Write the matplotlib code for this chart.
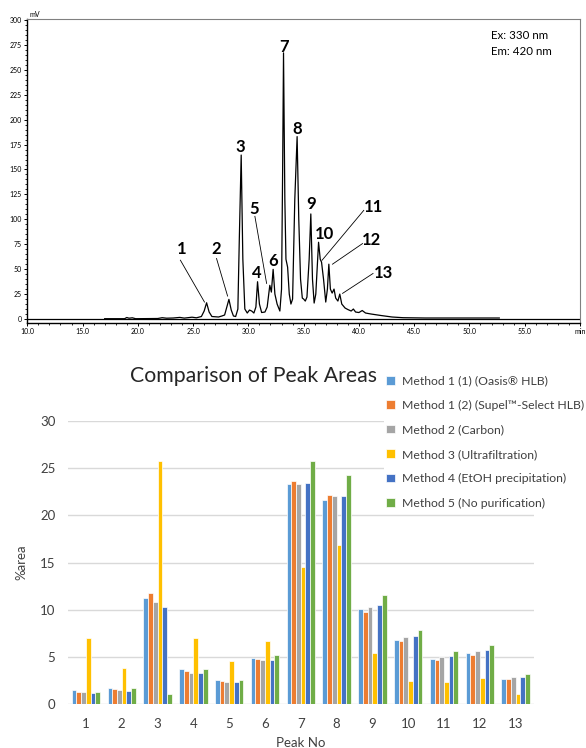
import numpy as np
import matplotlib.pyplot as plt
from matplotlib.ticker import MultipleLocator

plt.rcParams['font.family'] = ['Lato', 'DejaVu Sans']

# chromatogram trace (time in min, signal in mV)
trace_t = [17.0, 18.8, 19.0, 19.2, 19.5, 19.8, 21.8, 22.2, 22.6, 23.2, 23.8, 24.2, 24.9, 25.3,
           25.75, 26.0, 26.22, 26.45, 26.7, 27.3, 27.6, 27.85, 28.05, 28.24, 28.45, 28.65, 28.85,
           29.05, 29.18, 29.35, 29.5, 29.68, 29.9, 30.1, 30.3, 30.5, 30.68, 30.83, 31.0, 31.2,
           31.5, 31.7, 31.94, 32.08, 32.24, 32.4, 32.6, 32.85, 33.0, 33.1, 33.18, 33.3, 33.4,
           33.55, 33.7, 33.85, 34.0, 34.2, 34.41, 34.56, 34.72, 34.88, 35.0, 35.15, 35.3, 35.5,
           35.65, 35.8, 35.95, 36.1, 36.35, 36.5, 36.62, 36.8, 37.0, 37.15, 37.28, 37.42, 37.58,
           37.75, 37.9, 38.1, 38.27, 38.45, 38.75, 39.0, 39.3, 39.5, 39.7, 40.0, 40.3, 40.6, 41.1,
           42.0, 43.0, 44.0, 46.0, 52.7]
trace_mv = [0.3, 0.3, 1.5, 0.8, 1.2, 0.3, 0.5, 1.3, 0.8, 1.0, 1.6, 0.9, 1.8, 1.2,
            2.5, 8, 16.3, 7, 2.5, 2.0, 3.0, 4, 12, 19.7, 9, 3, 2.5,
            10, 80, 164.5, 60, 10, 6, 9, 8, 6, 12, 37.4, 15, 6.5,
            7, 12, 33.8, 27, 49.8, 25, 15, 8, 30, 150, 267, 120, 60,
            52, 25, 15, 20, 120, 183, 100, 40, 21, 20, 18, 22, 60,
            105.4, 40, 16, 25, 77, 60, 57, 40, 17, 30, 55, 30, 26,
            30, 21, 18, 25, 15, 11, 9.5, 8, 10, 7, 6.5, 8.5, 6, 5,
            3.5, 2, 1.3, 1.0, 1.0]

peak_labels = ['1', '2', '3', '4', '5', '6', '7', '8', '9', '10', '11', '12', '13']
label_t = [23.96, 27.12, 29.23, 30.74, 30.5, 32.24, 33.21, 34.41, 35.71, 36.92, 41.28, 41.14, 42.19]
label_mv = [70, 70, 173, 45.7, 110, 58.3, 273, 191, 115.7, 85.7, 112.3, 79, 46.3]
leader_lines = {
    '1': ((23.85, 59), (26.03, 17)),
    '2': ((27.12, 60.7), (28.12, 23)),
    '5': ((30.59, 103), (31.65, 35.7)),
    '11': ((40.44, 109), (36.67, 59)),
    '12': ((40.33, 75.7), (37.61, 55)),
    '13': ((41.28, 45.7), (38.52, 25.7)),
}

# peak area comparison (%area)
peak_no = [str(i) for i in range(1, 14)]
methods = ['Method 1 (1) (Oasis® HLB)',
           'Method 1 (2) (Supel™-Select HLB)',
           'Method 2 (Carbon)',
           'Method 3 (Ultrafiltration)',
           'Method 4 (EtOH precipitation)',
           'Method 5 (No purification)']
colors = ['#5B9BD5', '#ED7D31', '#A5A5A5', '#FFC000', '#4472C4', '#70AD47']
m1_oasis = [1.52, 1.69, 11.26, 3.71, 2.58, 4.94, 23.33, 21.67, 10.06, 6.81, 4.77, 5.40, 2.72]
m1_supel = [1.34, 1.62, 11.79, 3.53, 2.51, 4.80, 23.61, 22.17, 9.78, 6.71, 4.66, 5.22, 2.65]
m2_carbon = [1.27, 1.52, 10.84, 3.35, 2.36, 4.66, 23.30, 22.06, 10.31, 7.17, 5.05, 5.68, 2.86]
m3_ultra = [7.06, 3.81, 25.80, 7.06, 4.59, 6.74, 14.58, 16.84, 5.40, 2.47, 2.33, 2.82, 1.13]
m4_etoh = [1.20, 1.45, 10.34, 3.35, 2.36, 4.73, 23.44, 22.06, 10.52, 7.24, 5.15, 5.75, 2.89]
m5_none = [1.34, 1.69, 1.06, 3.71, 2.58, 5.26, 25.80, 24.28, 11.58, 7.87, 5.65, 6.28, 3.25]
area_data = [m1_oasis, m1_supel, m2_carbon, m3_ultra, m4_etoh, m5_none]

fig = plt.figure(figsize=(5.86, 7.48), dpi=100)

# ---- chromatogram ----
ax1 = fig.add_axes([0.0466, 0.5686, 0.9431, 0.406])
ax1.axhline(0, color='black', lw=0.9, zorder=1)
ax1.plot(trace_t, trace_mv, color='black', lw=0.9, zorder=2)
for lab, t, mv in zip(peak_labels, label_t, label_mv):
    ax1.text(t, mv, lab, ha='center', va='center', fontsize=12, fontweight='bold')
for (p0, p1) in leader_lines.values():
    ax1.plot([p0[0], p1[0]], [p0[1], p1[1]], color='black', lw=0.6)
ax1.text(51.96, 284, 'Ex: 330 nm', fontsize=8.3, va='center')
ax1.text(51.96, 268, 'Em: 420 nm', fontsize=8.3, va='center')
ax1.text(0.004, 1.003, 'mV', transform=ax1.transAxes, fontsize=5, va='bottom')

ax1.set_xlim(10, 60)
ax1.set_ylim(-3.7, 301)
ax1.set_xticks(np.arange(10, 61, 5))
ax1.set_xticklabels([f'{v:.1f}' for v in np.arange(10, 56, 5)] + ['min'])
ax1.set_yticks(np.arange(0, 301, 25))
ax1.xaxis.set_minor_locator(MultipleLocator(1))
ax1.yaxis.set_minor_locator(MultipleLocator(5))
ax1.tick_params(axis='both', which='major', labelsize=5, length=2.5, width=0.7, pad=1.5)
ax1.tick_params(axis='both', which='minor', length=1.5, width=0.6)
for side in ['top', 'right']:
    ax1.spines[side].set_color('#808080')
for side in ['left', 'bottom']:
    ax1.spines[side].set_color('black')
    ax1.spines[side].set_linewidth(1.0)

# ---- peak areas ----
ax2 = fig.add_axes([0.116, 0.0584, 0.7945, 0.3787])
x = np.arange(1, 14)
w = 0.132
for i, (vals, name, c) in enumerate(zip(area_data, methods, colors)):
    ax2.bar(x + (i - 2.5) * w, vals, width=w, color=c, edgecolor='white', linewidth=0.5,
            label=name, zorder=3)
ax2.set_xlim(0.5, 13.5)
ax2.set_ylim(0, 30)
ax2.set_yticks(np.arange(0, 31, 5))
ax2.set_xticks(x)
ax2.set_xticklabels(peak_no)
ax2.yaxis.grid(True, color='#D9D9D9', lw=1.0, zorder=0)
ax2.set_axisbelow(True)
for s in ax2.spines.values():
    s.set_visible(False)
ax2.tick_params(axis='both', length=0, labelsize=9.5, colors='#404040')
ax2.tick_params(axis='x', pad=10)
ax2.tick_params(axis='y', pad=9)
ax2.set_ylabel('%area', fontsize=9.5, color='#404040', labelpad=9)
ax2.set_xlabel('Peak No', fontsize=9.5, color='#404040', labelpad=5)

fig.text(254 / 586, 1 - 375.7 / 748, 'Comparison of Peak Areas', ha='center', va='center',
         fontsize=15.3, color='#262626')
leg = fig.legend(loc='upper left', bbox_to_anchor=(384 / 586, 1 - 373 / 748), fontsize=8.8,
                 frameon=True, facecolor='white', edgecolor='none', framealpha=1,
                 handlelength=0.72, handleheight=0.72, handletextpad=0.55, labelspacing=1.1,
                 borderpad=0.2, borderaxespad=0)
for t in leg.get_texts():
    t.set_color('#404040')

plt.savefig('out.png', dpi=100)
